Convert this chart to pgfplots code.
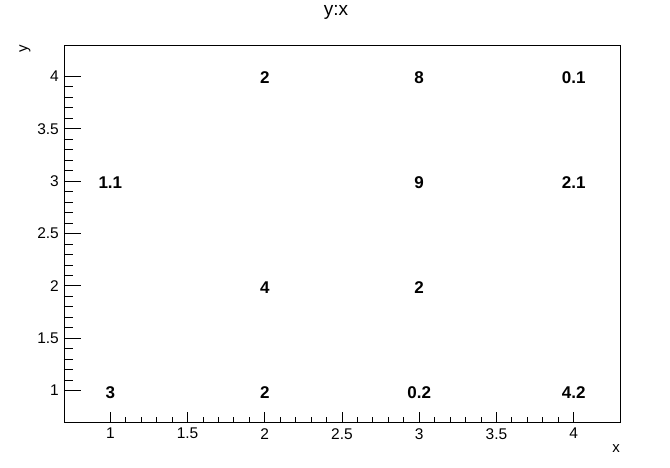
\documentclass[border=0pt]{standalone}
\usepackage{fontspec}
\setmainfont{Liberation Sans}
\usepackage{pgfplots}
\pgfplotsset{compat=1.18}
\begin{document}
\begin{tikzpicture}[x=1pt,y=1pt]
\useasboundingbox (0,0) rectangle (670,467);
% x axis with its ticks
\begin{axis}[at={(64pt,45pt)}, anchor=south west, scale only axis,
  width=556pt, height=377pt,
  xmin=0.7, xmax=4.3, ymin=0.7, ymax=4.3,
  xtick={1,1.5,2,2.5,3,3.5,4}, ytick=\empty,
  minor x tick num=4,
  tick align=inside, xtick pos=bottom,
  major tick length=10.5pt, minor tick length=5pt,
  tick style={black, line width=0.8pt},
  axis line style={line width=0.8pt},
  /pgf/number format/assume math mode=true,
  xticklabel style={font=\fontsize{15.5}{17}\selectfont, anchor=north, inner sep=0pt, yshift=-6pt},
]
\addplot[only marks, mark=none, nodes near coords, point meta=explicit symbolic,
  nodes near coords align={center},
  every node near coord/.append style={anchor=base, yshift=-7.5pt, font=\bfseries\fontsize{17}{19}\selectfont, inner sep=0pt}]
  table[meta=l] {
x y l
1 1 3
2 1 2
3 1 0.2
4 1 4.2
2 2 4
3 2 2
1 3 1.1
3 3 9
4 3 2.1
2 4 2
3 4 8
4 4 0.1
};
\end{axis}
% y axis ticks
\begin{axis}[at={(64pt,45pt)}, anchor=south west, scale only axis,
  width=556pt, height=377pt,
  xmin=0.7, xmax=4.3, ymin=0.7, ymax=4.3,
  ytick={1,1.5,2,2.5,3,3.5,4}, xtick=\empty,
  minor y tick num=4,
  tick align=inside, ytick pos=left,
  major tick length=17pt, minor tick length=8.5pt,
  tick style={black, line width=0.8pt},
  axis line style={draw=none},
  /pgf/number format/assume math mode=true,
  yticklabel style={font=\fontsize{15.5}{17}\selectfont, anchor=east, inner sep=0pt, xshift=-5pt},
]
\end{axis}
\node[font=\fontsize{19}{21}\selectfont] at (336,455) {y:x};
\node[font=\fontsize{15}{17}\selectfont, anchor=east, inner sep=0pt] at (620,18) {x};
\node[font=\fontsize{15}{17}\selectfont, anchor=east, inner sep=0pt, rotate=90] at (25,422) {y};
\end{tikzpicture}
\end{document}
